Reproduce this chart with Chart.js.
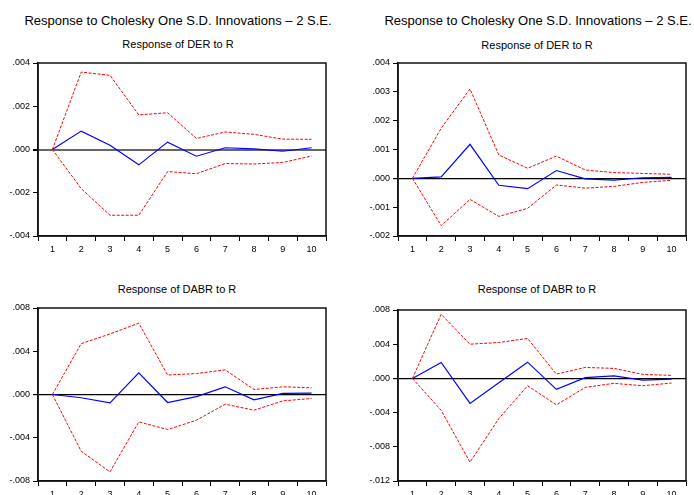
<!DOCTYPE html>
<html>
<head>
<meta charset="utf-8">
<script src="https://cdn.jsdelivr.net/npm/chart.js@4/dist/chart.umd.min.js"></script>
<style>
  html, body { margin: 0; padding: 0; background: #fff; }
  body { width: 694px; height: 495px; overflow: hidden; position: relative; font-family: "Liberation Sans", Arial, sans-serif; color: #000; }
  .main { position: absolute; font-size: 13px; white-space: nowrap; transform: translate(-50%, -50%); }
  .sub { position: absolute; font-size: 11px; white-space: nowrap; transform: translate(-50%, -50%); }
  canvas { position: absolute; }
</style>
</head>
<body>
<div class="main" style="left:178px; top:20px;">Response to Cholesky One S.D. Innovations – 2 S.E.</div>
<div class="main" style="left:538px; top:20px;">Response to Cholesky One S.D. Innovations – 2 S.E.</div>
<div class="sub" style="left:178px; top:44px;">Response of DER to R</div>
<div class="sub" style="left:537px; top:45px;">Response of DER to R</div>
<div class="sub" style="left:177px; top:289px;">Response of DABR to R</div>
<div class="sub" style="left:537px; top:289px;">Response of DABR to R</div>

<canvas id="p1" style="left:0px; top:50px;" width="347" height="211"></canvas>
<canvas id="p2" style="left:347px; top:50px;" width="347" height="211"></canvas>
<canvas id="p3" style="left:0px; top:290px;" width="347" height="216"></canvas>
<canvas id="p4" style="left:347px; top:290px;" width="347" height="216"></canvas>

<script>
// Forecast horizon (periods)
const periods = ['1', '2', '3', '4', '5', '6', '7', '8', '9', '10'];

// Left block: response of DER to R
const derA = [0, 0.00085, 0.0002, -0.00071, 0.00034, -0.00031, 0.00008, 0.00003, -0.00008, 0.00008];
const derAUpper = [0, 0.00358, 0.00343, 0.0016, 0.0017, 0.00051, 0.00081, 0.0007, 0.00048, 0.00047];
const derALower = [0, -0.00181, -0.00304, -0.00304, -0.00102, -0.00112, -0.00065, -0.00067, -0.0006, -0.0003];

// Right block: response of DER to R
const derB = [0, 0.00005, 0.00118, -0.00024, -0.00036, 0.00027, -0.00002, -0.00006, 0.00002, 0.00003];
const derBUpper = [0, 0.00174, 0.0031, 0.00081, 0.00035, 0.00077, 0.00029, 0.0002, 0.00017, 0.00014];
const derBLower = [0, -0.00164, -0.00073, -0.00132, -0.00104, -0.00023, -0.00034, -0.00028, -0.00014, -0.00007];

// Left block: response of DABR to R
const dabrA = [0, -0.0003, -0.00077, 0.002, -0.00074, -0.0002, 0.00071, -0.0005, 0.0001, 0.00012];
const dabrAUpper = [0, 0.0047, 0.0056, 0.0066, 0.0018, 0.00194, 0.00228, 0.00046, 0.00071, 0.00062];
const dabrALower = [0, -0.00525, -0.00716, -0.00253, -0.00324, -0.00238, -0.0009, -0.00145, -0.00059, -0.00037];

// Right block: response of DABR to R
const dabrB = [0, 0.00187, -0.00292, -0.0005, 0.0019, -0.00128, 0.00008, 0.0003, -0.0002, -0.00008];
const dabrBUpper = [0, 0.0075, 0.004, 0.0042, 0.00467, 0.0005, 0.00128, 0.00117, 0.00047, 0.00035];
const dabrBLower = [0, -0.00374, -0.0098, -0.0047, -0.00086, -0.0031, -0.00105, -0.00058, -0.00086, -0.00054];

// Box around the plotting area
const frame = {
  id: 'frame',
  afterDraw(chart) {
    const a = chart.chartArea, ctx = chart.ctx;
    ctx.save();
    ctx.strokeStyle = '#111';
    ctx.lineWidth = 1.5;
    ctx.strokeRect(a.left, a.top, a.right - a.left, a.bottom - a.top);
    ctx.restore();
  }
};

const fmt = v => Number(v).toFixed(3).replace('0.', '.');

function panel(id, resp, upper, lower, yMin, yMax, step, axisWidth, padTop, padRight, zeroColor, zeroWidth) {
  const band = data => ({
    data, borderColor: '#ff0000', borderWidth: 1, borderDash: [3, 1.5],
    pointRadius: 0, tension: 0, fill: false
  });
  new Chart(document.getElementById(id), {
    type: 'line',
    data: {
      labels: periods,
      datasets: [
        band(upper),
        band(lower),
        { data: resp, borderColor: '#0000ff', borderWidth: 1.2, pointRadius: 0, tension: 0, fill: false }
      ]
    },
    options: {
      responsive: false,
      animation: false,
      events: [],
      layout: { padding: { top: padTop, right: padRight, left: 0, bottom: 0 } },
      plugins: { legend: { display: false }, title: { display: false }, tooltip: { enabled: false } },
      scales: {
        x: {
          type: 'category',
          offset: true,
          afterFit: s => { s.height = 25; },
          grid: { display: true, offset: true, drawOnChartArea: false, drawTicks: true, tickLength: 5, tickColor: '#000', lineWidth: 1 },
          border: { display: true, color: '#111', width: 1.5 },
          ticks: { color: '#000', font: { family: 'Liberation Sans', size: 9 }, padding: 3, maxRotation: 0, autoSkip: false }
        },
        y: {
          min: yMin, max: yMax,
          afterFit: s => { s.width = axisWidth; },
          grid: {
            display: true, drawOnChartArea: true, drawTicks: true, tickLength: 5, tickColor: '#000',
            color: c => Math.abs(c.tick.value) < 1e-12 ? zeroColor : 'rgba(0,0,0,0)',
            lineWidth: c => Math.abs(c.tick.value) < 1e-12 ? zeroWidth : 1
          },
          border: { display: true, color: '#111', width: 1.5 },
          ticks: { stepSize: step, color: '#000', font: { family: 'Liberation Sans', size: 9 }, padding: 3, callback: v => fmt(v) }
        }
      }
    },
    plugins: [frame]
  });
}

panel('p1', derA, derAUpper, derALower, -0.004, 0.004, 0.002, 38, 13, 21, '#666', 2);
panel('p2', derB, derBUpper, derBLower, -0.002, 0.004, 0.001, 51, 13, 8, '#000', 1.2);
panel('p3', dabrA, dabrAUpper, dabrALower, -0.008, 0.008, 0.004, 38, 18, 21, '#000', 1.2);
panel('p4', dabrB, dabrBUpper, dabrBLower, -0.012, 0.008, 0.004, 51, 20, 8, '#000', 1.2);
</script>
</body>
</html>
